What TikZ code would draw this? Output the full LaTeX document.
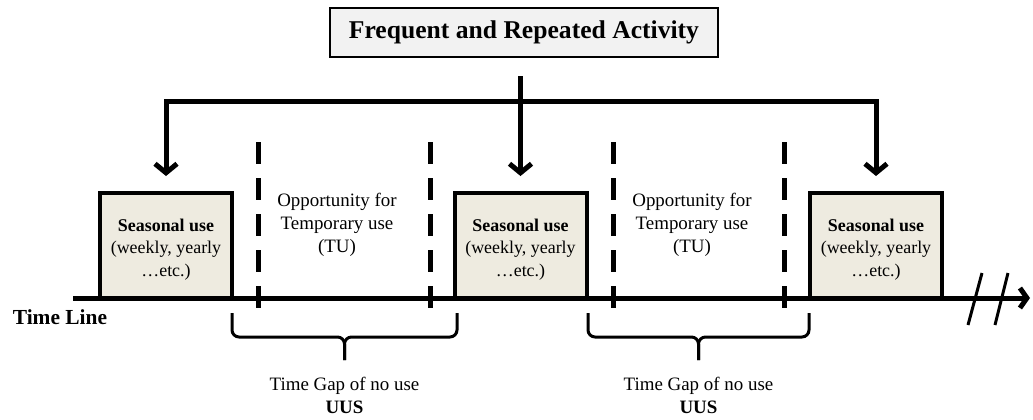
\documentclass[tikz,border=0pt]{standalone}
\usepackage{fontspec}
\setmainfont{Liberation Serif}
\usetikzlibrary{arrows.meta,calc}
\definecolor{beige}{HTML}{EEEBE0}
\definecolor{titlefill}{HTML}{F2F2F2}
\begin{document}
\begin{tikzpicture}[x=1bp,y=-1bp,
  seasonbox/.style={draw, line width=4bp, fill=beige, minimum width=132bp, minimum height=105bp,
    inner sep=0pt},
  seasontext/.style={inner sep=0pt, yshift=-4bp, align=center, font=\fontsize{18}{22.5}\selectfont},
  titlebox/.style={draw, line width=2bp, fill=titlefill, minimum width=388bp, minimum height=49bp,
    inner sep=0pt, font=\bfseries\fontsize{25.7}{28}\selectfont},
  arr/.style={line width=5bp, -{Straight Barb[length=9bp,width=22bp]}},
  tlarrow/.style={line width=5bp, -{Straight Barb[length=7bp,width=20bp]}},
  dashline/.style={line width=5bp, dash pattern=on 22bp off 14bp},
  bracepath/.style={line width=3bp, rounded corners=7bp},
  opptext/.style={inner sep=0pt, align=center, font=\fontsize{19}{23}\selectfont},
  gaptext/.style={inner sep=0pt, align=center, font=\fontsize{19}{23}\selectfont},
  tltext/.style={inner sep=0pt, font=\bfseries\fontsize{21.5}{24}\selectfont}]
\useasboundingbox (0,0) rectangle (1033,419);

% time line
\coordinate (tlstart) at (73,298);
\coordinate (tlend) at (1030,298);
\draw[tlarrow] (tlstart) -- (tlend);
\draw[line width=3bp] (982,273) -- (968,325);
\draw[line width=3bp] (1008,273) -- (995,325);
\node[tltext] (tl) at (60,317) {Time Line};

% title
\node[titlebox] (title) at (524,32.5) {Frequent and Repeated Activity};

% seasonal boxes
\node[seasonbox, label={[seasontext]center:{\textbf{Seasonal use}\\(weekly, yearly\\\ldots{}etc.)}}] (box1) at (166,245.5) {};
\node[seasonbox, label={[seasontext]center:{\textbf{Seasonal use}\\(weekly, yearly\\\ldots{}etc.)}}] (box2) at (520.5,245.5) {};
\node[seasonbox, label={[seasontext]center:{\textbf{Seasonal use}\\(weekly, yearly\\\ldots{}etc.)}}] (box3) at (876,245.5) {};

% arrows
\coordinate (bar) at (520.5,101);
\draw[arr] ($(title.south -| box2.north)+(0,18)$) -- ($(box2.north)+(0,-15)$);
\draw[arr] (bar) -| ($(box1.north)+(0,-15)$);
\draw[arr] (bar) -| ($(box3.north)+(0,-15)$);

% dashed lines
\foreach \xx in {258,430,613,784}{
  \draw[dashline] (\xx,142) -- (\xx,308);
}

% opportunity texts
\node[opptext] (opp1) at (337,225) {Opportunity for\\Temporary use\\(TU)};
\node[opptext] (opp2) at (692,225) {Opportunity for\\Temporary use\\(TU)};

% braces
\draw[bracepath] (232,313) -- (232,337) -- (344.5,337) -- (344.5,360);
\draw[bracepath] (457,313) -- (457,337) -- (344.5,337) -- (344.5,360);
\draw[bracepath] (588,313) -- (588,337) -- (698.5,337) -- (698.5,360);
\draw[bracepath] (809,313) -- (809,337) -- (698.5,337) -- (698.5,360);

\node[gaptext] (gap1) at (344.5,395.5) {Time Gap of no use\\\textbf{UUS}};
\node[gaptext] (gap2) at (698.5,395.5) {Time Gap of no use\\\textbf{UUS}};
\end{tikzpicture}
\end{document}
